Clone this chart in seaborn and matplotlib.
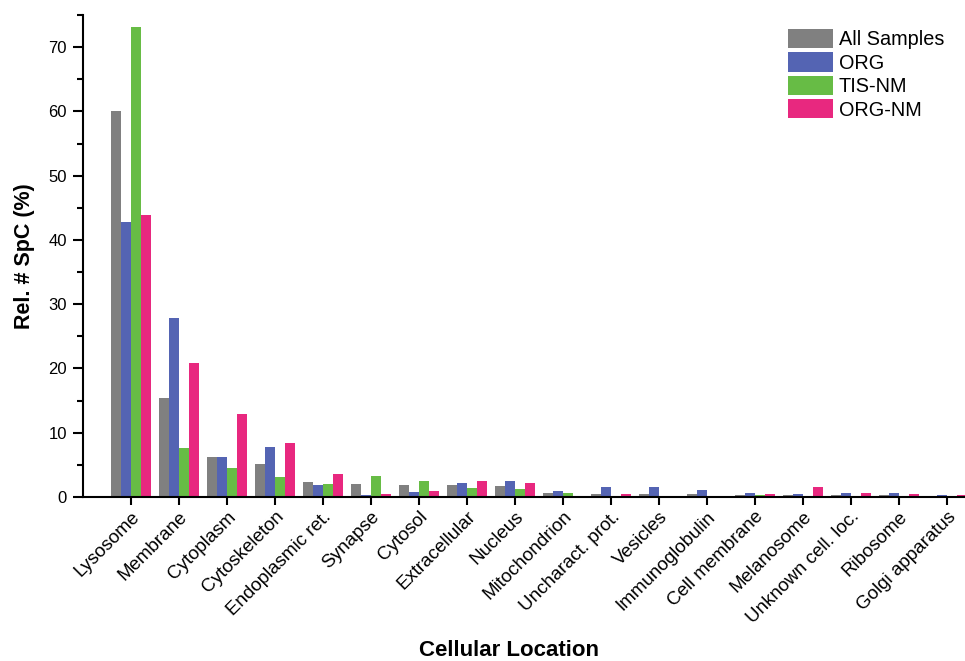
import matplotlib
matplotlib.use("Agg")
import matplotlib.pyplot as plt
import seaborn as sns
import pandas as pd
from matplotlib.ticker import MultipleLocator

# Relative spectral counts per cellular location (%)
locations = [
    "Lysosome", "Membrane", "Cytoplasm", "Cytoskeleton", "Endoplasmic ret.",
    "Synapse", "Cytosol", "Extracellular", "Nucleus", "Mitochondrion",
    "Uncharact. prot.", "Vesicles", "Immunoglobulin", "Cell membrane",
    "Melanosome", "Unknown cell. loc.", "Ribosome", "Golgi apparatus",
]
series_names = ["All Samples", "ORG", "TIS-NM", "ORG-NM"]
all_samples = [60.1, 15.4, 6.2, 5.2, 2.3, 2.0, 1.8, 1.8, 1.75, 0.6, 0.5, 0.45, 0.4, 0.35, 0.35, 0.25, 0.25, 0.05]
org = [42.8, 27.9, 6.3, 7.8, 1.8, 0.3, 0.85, 2.2, 2.5, 0.95, 1.5, 1.5, 1.1, 0.6, 0.5, 0.6, 0.55, 0.25]
tis_nm = [73.2, 7.6, 4.5, 3.1, 2.1, 3.3, 2.5, 1.35, 1.3, 0.6, 0.05, 0.05, 0.0, 0.25, 0.0, 0.0, 0.0, 0.0]
org_nm = [43.9, 20.9, 12.9, 8.4, 3.6, 0.5, 1.0, 2.5, 2.2, 0.15, 0.4, 0.2, 0.2, 0.5, 1.6, 0.65, 0.45, 0.3]
palette = ["#808080", "#5464b3", "#67bc45", "#e8287f"]

df = pd.DataFrame({
    "location": locations * 4,
    "series": [s for s in series_names for _ in locations],
    "value": all_samples + org + tis_nm + org_nm,
})

sns.set_style("ticks")
plt.rcParams["font.family"] = ["Liberation Sans", "DejaVu Sans"]
plt.rcParams["text.color"] = "black"
plt.rcParams["axes.labelcolor"] = "black"
plt.rcParams["xtick.color"] = "black"
plt.rcParams["ytick.color"] = "black"

W, H = 965, 661
fig = plt.figure(figsize=(W / 100, H / 100), dpi=100)
left, right, top, bottom = 83, 965, 15, 497
ax = fig.add_axes([left / W, 1 - bottom / H, (right - left) / W, (bottom - top) / H])

sns.barplot(data=df, x="location", y="value", hue="series", order=locations,
            hue_order=series_names, palette=palette, saturation=1, width=0.83,
            edgecolor="none", linewidth=0, ax=ax, errorbar=None)

ax.set_xlim(-1, 17.375)
ax.set_ylim(0, 75)
ax.yaxis.set_major_locator(MultipleLocator(10))
ax.yaxis.set_minor_locator(MultipleLocator(5))

for side in ("top", "right"):
    ax.spines[side].set_visible(False)
for side in ("left", "bottom"):
    ax.spines[side].set_linewidth(1.5)
    ax.spines[side].set_color("black")

ax.tick_params(axis="y", which="major", length=7.5, width=1.5, labelsize=12, pad=4,
               colors="black")
ax.tick_params(axis="y", which="minor", length=4.5, width=1.5, colors="black")
ax.tick_params(axis="x", which="major", length=6, width=1.5, labelsize=13.5, pad=2,
               colors="black")
ax.set_xticks(range(len(locations)))
ax.set_xticklabels(locations, rotation=45, ha="right", rotation_mode="anchor")

ax.set_ylabel("Rel. # SpC (%)", fontsize=15.5, fontweight="bold", color="black")
ax.set_xlabel("Cellular Location", fontsize=16, fontweight="bold", color="black")
ax.yaxis.set_label_coords((35 - left) / (right - left), 0.5)
ax.xaxis.set_label_coords((509 - left) / (right - left), -(650 - bottom) / (bottom - top))
ax.xaxis.label.set_va("center")

handles, labels = ax.get_legend_handles_labels()
ax.legend(handles, labels, loc="upper left", bbox_to_anchor=(788 / W, 1 - 29 / H),
          bbox_transform=fig.transFigure, frameon=False, fontsize=14.3,
          handlelength=2.25, handleheight=1.1, labelspacing=0.16,
          handletextpad=0.3, borderpad=0, borderaxespad=0)

fig.savefig("out.png", dpi=100)
